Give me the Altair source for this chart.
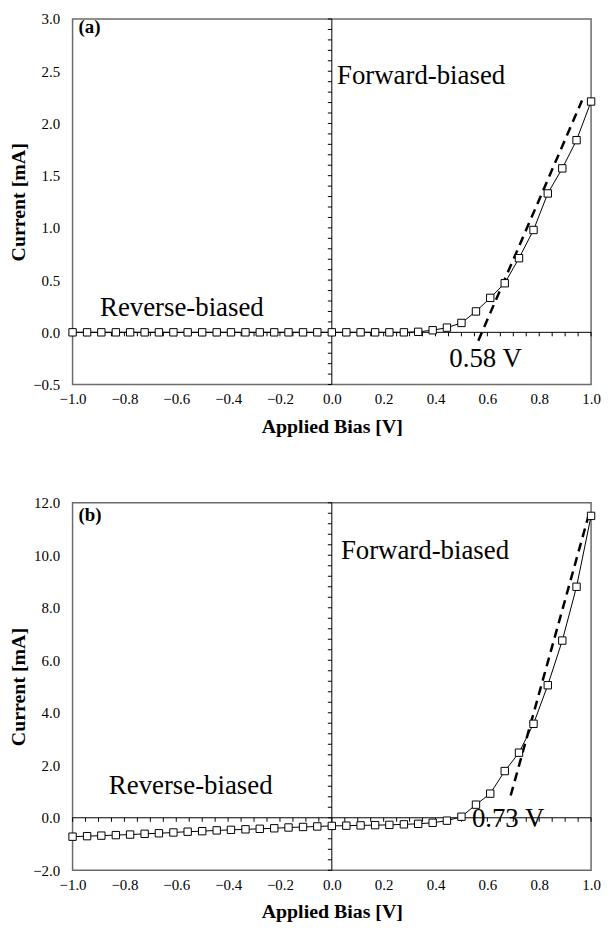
import altair as alt
import pandas as pd

# ---------------- data ----------------
BIAS = [-1.0, -0.944, -0.889, -0.833, -0.778, -0.722, -0.667, -0.611, -0.556, -0.5,
        -0.444, -0.389, -0.333, -0.278, -0.222, -0.167, -0.111, -0.056, 0.0,
        0.056, 0.111, 0.167, 0.222, 0.278, 0.333, 0.389, 0.444, 0.5,
        0.556, 0.611, 0.667, 0.722, 0.778, 0.833, 0.889, 0.944, 1.0]

CURRENT_A = [0.0, 0.0, 0.0, 0.0, 0.0, 0.0, 0.0, 0.0, 0.0, 0.0,
             0.0, 0.0, 0.0, 0.0, 0.0, 0.0, 0.0, 0.0, 0.0,
             0.0, 0.0, 0.0, 0.0, 0.0, 0.005, 0.02, 0.045, 0.09,
             0.20, 0.33, 0.47, 0.71, 0.98, 1.33, 1.57, 1.84, 2.21]

CURRENT_B = [-0.72, -0.70, -0.68, -0.66, -0.64, -0.61, -0.59, -0.56, -0.53, -0.51,
             -0.48, -0.46, -0.44, -0.42, -0.40, -0.37, -0.35, -0.33, -0.31,
             -0.30, -0.29, -0.28, -0.27, -0.25, -0.23, -0.19, -0.11, 0.04,
             0.50, 0.92, 1.78, 2.48, 3.58, 5.05, 6.75, 8.80, 11.50]

FIT_A_X = [0.565, 0.965]
FIT_A_Y = [-0.08, 2.22]
FIT_B_X = [0.69, 0.99]
FIT_B_Y = [0.85, 11.5]

X_LABELS = [-1.0, -0.8, -0.6, -0.4, -0.2, 0.0, 0.2, 0.4, 0.6, 0.8, 1.0]
X_MINOR = [round(-1.0 + 0.05 * i, 2) for i in range(41)]

Y_LABELS_A = [-0.5, 0.0, 0.5, 1.0, 1.5, 2.0, 2.5, 3.0]
Y_MINOR_A = [round(-0.5 + 0.1 * i, 2) for i in range(36)]
Y_LABELS_B = [-2.0, 0.0, 2.0, 4.0, 6.0, 8.0, 10.0, 12.0]
Y_MINOR_B = [round(-2.0 + 0.4 * i, 2) for i in range(36)]

NOTE_A_TEXT = ["Forward-biased", "Reverse-biased"]
NOTE_A_X = [0.02, -0.894]
NOTE_A_Y = [2.45, 0.236]
VOLT_A = ["0.58 V"]
VOLT_A_X = [0.593]
VOLT_A_Y = [-0.255]

NOTE_B_TEXT = ["Forward-biased", "Reverse-biased"]
NOTE_B_X = [0.035, -0.86]
NOTE_B_Y = [10.15, 1.2]
VOLT_B = ["0.73 V"]
VOLT_B_X = [0.68]
VOLT_B_Y = [-0.05]

FONT = "Liberation Serif"


def panel(current, ydomain, ylabels, yminor, fitx, fity, ntext, nx, ny,
          vtext, vx, vy, letter, letter_y, h):
    xs = alt.Scale(domain=[-1, 1], nice=False, zero=False, padding=0)
    ys = alt.Scale(domain=ydomain, nice=False, zero=False, padding=0)
    df = pd.DataFrame({"bias": BIAS, "current": current})

    xaxis = alt.Axis(title="Applied Bias [V]", values=X_LABELS, format=".1f",
                     labelPadding=7, titlePadding=10, labelFlush=False)
    yaxis = alt.Axis(title="Current [mA]", values=ylabels, format=".1f",
                     labelPadding=13, titlePadding=4, labelFlush=False)

    line = alt.Chart(df).mark_line(color="black", strokeWidth=1).encode(
        x=alt.X("bias:Q", scale=xs, axis=xaxis),
        y=alt.Y("current:Q", scale=ys, axis=yaxis),
    )
    pts = alt.Chart(df).mark_point(shape="square", filled=True, fill="white",
                                   stroke="black", strokeWidth=1, size=55,
                                   opacity=1).encode(
        x=alt.X("bias:Q", scale=xs),
        y=alt.Y("current:Q", scale=ys),
    )
    fit = alt.Chart(pd.DataFrame({"x": fitx, "y": fity})).mark_line(
        color="black", strokeWidth=2.5, strokeDash=[9, 6]).encode(
        x=alt.X("x:Q", scale=xs), y=alt.Y("y:Q", scale=ys))

    zero_h = alt.Chart(pd.DataFrame({"v": [0]})).mark_rule(
        color="black", strokeWidth=1).encode(y=alt.Y("v:Q", scale=ys))
    zero_v = alt.Chart(pd.DataFrame({"v": [0]})).mark_rule(
        color="black", strokeWidth=1).encode(x=alt.X("v:Q", scale=xs))

    xticks = alt.Chart(pd.DataFrame({"t": X_MINOR})).mark_rule(
        color="black", strokeWidth=1, y2Offset=4).encode(
        x=alt.X("t:Q", scale=xs), y=alt.datum(0), y2=alt.datum(0))
    yticks = alt.Chart(pd.DataFrame({"t": yminor})).mark_rule(
        color="black", strokeWidth=1, x2Offset=-4).encode(
        y=alt.Y("t:Q", scale=ys), x=alt.datum(0), x2=alt.datum(0))

    notes = alt.Chart(pd.DataFrame({"t": ntext, "x": nx, "y": ny})).mark_text(
        font=FONT, fontSize=27, align="left", baseline="middle",
        color="black").encode(
        x=alt.X("x:Q", scale=xs), y=alt.Y("y:Q", scale=ys), text="t:N")
    volt = alt.Chart(pd.DataFrame({"t": vtext, "x": vx, "y": vy})).mark_text(
        font=FONT, fontSize=27, align="center", baseline="middle",
        color="black").encode(
        x=alt.X("x:Q", scale=xs), y=alt.Y("y:Q", scale=ys), text="t:N")
    lab = alt.Chart(pd.DataFrame({"t": [letter], "x": [-0.977], "y": [letter_y]})).mark_text(
        font=FONT, fontSize=19, fontWeight="bold", align="left",
        baseline="middle", color="black").encode(
        x=alt.X("x:Q", scale=xs), y=alt.Y("y:Q", scale=ys), text="t:N")

    return alt.layer(zero_h, zero_v, xticks, yticks, fit, line, pts,
                     notes, volt, lab).properties(width=522, height=h)


pa = panel(CURRENT_A, [-0.5, 3.0], Y_LABELS_A, Y_MINOR_A, FIT_A_X, FIT_A_Y,
           NOTE_A_TEXT, NOTE_A_X, NOTE_A_Y, VOLT_A, VOLT_A_X, VOLT_A_Y,
           "(a)", 2.92, 368)
pb = panel(CURRENT_B, [-2.0, 12.0], Y_LABELS_B, Y_MINOR_B, FIT_B_X, FIT_B_Y,
           NOTE_B_TEXT, NOTE_B_X, NOTE_B_Y, VOLT_B, VOLT_B_X, VOLT_B_Y,
           "(b)", 11.55, 370)

chart = alt.vconcat(pa, pb, spacing=58).properties(
    padding={"left": 0, "top": 0, "right": 0, "bottom": 0}
).configure_axis(
    grid=False, domain=False, ticks=False, tickSize=0,
    labelFont=FONT, labelFontSize=15, labelColor="black",
    titleFont=FONT, titleFontSize=20, titleFontWeight="bold", titleColor="black",
).configure_view(stroke="#6b6b6b", strokeWidth=1.5)

chart.save("out.html", embed_options={"renderer": "svg", "actions": False})
